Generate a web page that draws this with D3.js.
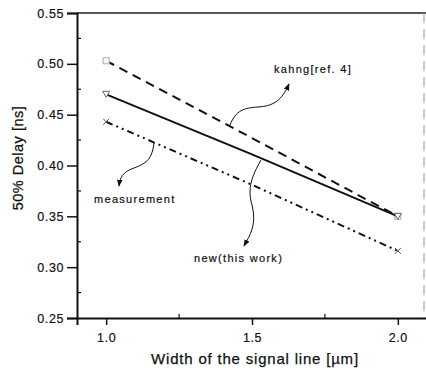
<!DOCTYPE html>
<html>
<head>
<meta charset="utf-8">
<script src="https://cdn.jsdelivr.net/npm/d3@7"></script>
<style>
  body { margin: 0; background: #fff; }
  svg { display: block; font-family: "Liberation Sans", Arial, sans-serif; }
</style>
</head>
<body>
<script>
// data
const widths = [1.0, 1.5, 2.0];
const kahng = [0.503, 0.427, 0.350];
const newWork = [0.470, 0.411, 0.350];
const measurement = [0.443, 0.381, 0.316];
const yTicks = [0.25, 0.30, 0.35, 0.40, 0.45, 0.50, 0.55];
const xTicks = [1.0, 1.5, 2.0];

const W = 426, H = 372;
const svg = d3.select("body").append("svg").attr("width", W).attr("height", H);

const x = d3.scaleLinear().domain([0.9, 2.1]).range([77, 427]);
const y = d3.scaleLinear().domain([0.25, 0.55]).range([318, 13]);

// frame
svg.append("line").attr("x1", 77).attr("x2", W).attr("y1", 13).attr("y2", 13)
  .attr("stroke", "#222").attr("stroke-width", 1.5);
svg.append("line").attr("x1", 424).attr("x2", 424).attr("y1", 13).attr("y2", 318)
  .attr("stroke", "#999").attr("stroke-width", 1).attr("stroke-dasharray", "10,6");

// y axis
const yAxis = svg.append("g").attr("transform", "translate(77,0)")
  .call(d3.axisLeft(y).tickValues(yTicks).tickFormat(d3.format(".2f")).tickSize(10).tickPadding(3));
yAxis.select(".domain").attr("stroke", "#111").attr("stroke-width", 2);
yAxis.selectAll(".tick line").attr("stroke", "#111").attr("stroke-width", 1.5);
yAxis.selectAll("text").attr("font-size", 12.5).attr("fill", "#111").attr("letter-spacing", 0.6)
  .attr("stroke", "#111").attr("stroke-width", 0.2);
// minor ticks inward
svg.append("g").selectAll("line")
  .data(d3.range(0.275, 0.55, 0.05))
  .join("line")
  .attr("x1", 77).attr("x2", 81)
  .attr("y1", d => y(d)).attr("y2", d => y(d))
  .attr("stroke", "#111").attr("stroke-width", 1.2);

// x axis
const xAxis = svg.append("g").attr("transform", "translate(0,318)")
  .call(d3.axisBottom(x).tickValues(xTicks).tickFormat(d3.format(".1f")).tickSize(7).tickPadding(8));
xAxis.select(".domain").attr("stroke", "#111").attr("stroke-width", 2);
xAxis.selectAll(".tick line").attr("stroke", "#111").attr("stroke-width", 1.5);
xAxis.selectAll("text").attr("font-size", 12.5).attr("fill", "#111").attr("letter-spacing", 0.6)
  .attr("stroke", "#111").attr("stroke-width", 0.2);
svg.append("g").selectAll("line")
  .data([1.25, 1.75])
  .join("line")
  .attr("x1", d => x(d)).attr("x2", d => x(d))
  .attr("y1", 318).attr("y2", 314)
  .attr("stroke", "#111").attr("stroke-width", 1.2);

// axis titles
svg.append("text")
  .attr("transform", "translate(23,158) rotate(-90)")
  .attr("text-anchor", "middle").attr("font-size", 14.5).attr("fill", "#111")
  .attr("letter-spacing", 0.5).attr("stroke", "#111").attr("stroke-width", 0.25)
  .text("50% Delay [ns]");
svg.append("text")
  .attr("x", 255).attr("y", 364)
  .attr("text-anchor", "middle").attr("font-size", 15).attr("fill", "#111")
  .attr("letter-spacing", 0.8).attr("stroke", "#111").attr("stroke-width", 0.25)
  .text("Width of the signal line [\u00b5m]");

// series
const line = d3.line().x(d => x(d[0])).y(d => y(d[1]));
const series = [
  { vals: kahng, dash: "9,6", marker: "square" },
  { vals: newWork, dash: null, marker: "triangle" },
  { vals: measurement, dash: "7,4,2,4,2,4", marker: "cross" }
];
series.forEach(s => {
  const pts = widths.map((w, i) => [w, s.vals[i]]);
  svg.append("path").datum(pts)
    .attr("d", line)
    .attr("fill", "none").attr("stroke", "#111").attr("stroke-width", 2)
    .attr("stroke-dasharray", s.dash);
  const ends = [pts[0], pts[pts.length - 1]];
  ends.forEach(p => {
    const cx = x(p[0]), cy = y(p[1]);
    if (s.marker === "square") {
      svg.append("rect").attr("x", cx - 3).attr("y", cy - 3).attr("width", 6).attr("height", 6)
        .attr("fill", "#fff").attr("stroke", "#aaa").attr("stroke-width", 1);
    } else if (s.marker === "triangle") {
      svg.append("path").attr("d", `M${cx - 3.5},${cy - 3}L${cx + 3.5},${cy - 3}L${cx},${cy + 3}Z`)
        .attr("fill", "#fff").attr("stroke", "#666").attr("stroke-width", 1);
    } else {
      svg.append("path").attr("d", `M${cx - 3},${cy - 3}L${cx + 3},${cy + 3}M${cx - 3},${cy + 3}L${cx + 3},${cy - 3}`)
        .attr("stroke", "#555").attr("stroke-width", 1);
    }
  });
});

// annotations
svg.append("defs").append("marker")
  .attr("id", "ah").attr("viewBox", "0 0 10 10").attr("refX", 9).attr("refY", 5)
  .attr("markerWidth", 7).attr("markerHeight", 7).attr("orient", "auto-start-reverse")
  .append("path").attr("d", "M0,1L10,5L0,9Z").attr("fill", "#111");

const annots = [
  { text: "kahng[ref. 4]", tx: 274, ty: 73, path: "M230,125 C236,110 244,108 258,107 C274,106 282,100 289,84" },
  { text: "measurement", tx: 94, ty: 203, path: "M154,143 C152,158 148,163 134,168 C122,172 120,178 119,186" },
  { text: "new(this work)", tx: 194, ty: 262, path: "M261,160 C252,176 247,188 252,205 C257,225 250,235 244,246" }
];
annots.forEach(a => {
  svg.append("path").attr("d", a.path).attr("fill", "none")
    .attr("stroke", "#111").attr("stroke-width", 1).attr("marker-end", "url(#ah)");
  svg.append("text").attr("x", a.tx).attr("y", a.ty).attr("font-size", 11)
    .attr("fill", "#111").attr("letter-spacing", 1.3).attr("stroke", "#111").attr("stroke-width", 0.2)
    .text(a.text);
});
</script>
</body>
</html>
